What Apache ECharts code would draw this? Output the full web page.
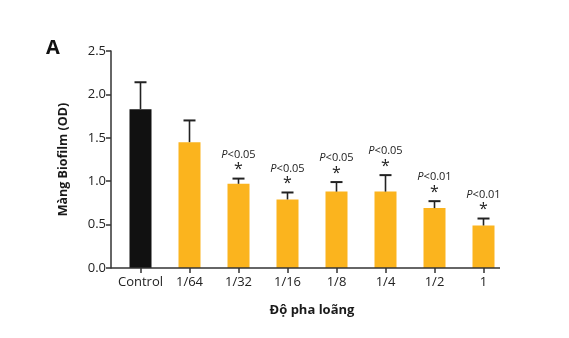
<!DOCTYPE html>
<html><head><meta charset="utf-8">
<script src="https://cdn.jsdelivr.net/npm/echarts@6/dist/echarts.min.js"></script>
<style>html,body{margin:0;padding:0;background:#fff}#c{width:569px;height:338px}</style>
</head><body><div id="c"></div>
<script>
const categories = ['Control','1/64','1/32','1/16','1/8','1/4','1/2','1'];
const means = [1.83, 1.45, 0.97, 0.79, 0.88, 0.88, 0.69, 0.49];
const errTops = [2.14, 1.70, 1.03, 0.87, 0.99, 1.07, 0.77, 0.57];
const pLabels = ['', '', '0.05', '0.05', '0.05', '0.05', '0.01', '0.01'];
const yTicks = [0, 0.5, 1.0, 1.5, 2.0, 2.5];

const FONT = 'Open Sans';
const chart = echarts.init(document.getElementById('c'), null, {renderer:'canvas'});
const barData = means.map((v,i)=>({value:v, itemStyle:{color: i===0 ? '#111111' : '#FBB41E'}}));

chart.setOption({
  animation:false,
  grid:{left:116, right:61, top:51, bottom:70},
  xAxis:{
    type:'category', data:categories,
    name:'Độ pha loãng', nameLocation:'middle', nameGap:36,
    nameTextStyle:{fontFamily:FONT, fontSize:13, fontWeight:'bold', color:'#1a1a1a'},
    axisLine:{show:false},
    axisTick:{show:true, alignWithLabel:true, length:5, lineStyle:{color:'#333', width:1.5}},
    axisLabel:{fontFamily:FONT, fontSize:13, color:'#222', margin:8, interval:0}
  },
  yAxis:{
    type:'value', min:yTicks[0], max:yTicks[yTicks.length-1], interval:0.5, offset:5,
    name:'Màng Biofilm (OD)', nameLocation:'middle', nameGap:41, nameRotate:90,
    nameTextStyle:{fontFamily:FONT, fontSize:12.5, fontWeight:'bold', color:'#1a1a1a'},
    splitLine:{show:false},
    axisLine:{show:true, lineStyle:{color:'#333', width:1.5}},
    axisTick:{show:true, length:5, lineStyle:{color:'#333', width:1.5}},
    axisLabel:{fontFamily:FONT, fontSize:13, color:'#222', margin:5, formatter:v=>v.toFixed(1)}
  },
  series:[
    {type:'bar', data:barData, barWidth:22, z:2},
    {type:'custom', z:3, data:categories.map((c,i)=>[i, means[i], errTops[i]]),
     renderItem:function(params, api){
       const x = api.coord([api.value(0), api.value(1)])[0];
       const y0 = api.coord([api.value(0), api.value(1)])[1];
       const y1 = api.coord([api.value(0), api.value(2)])[1];
       const st = {stroke:'#222', lineWidth:1.6};
       return {type:'group', children:[
         {type:'line', shape:{x1:x, y1:y0, x2:x, y2:y1}, style:st},
         {type:'line', shape:{x1:x-6, y1:y1, x2:x+6, y2:y1}, style:{stroke:'#222', lineWidth:2}}
       ]};
     }},
    {type:'custom', z:4, data:categories.map((c,i)=>[i, errTops[i]]),
     renderItem:function(params, api){
       const i = params.dataIndex;
       if(!pLabels[i]) return null;
       const p = api.coord([api.value(0), api.value(1)]);
       return {type:'group', children:[
         {type:'text', x:p[0], y:p[1]-9, style:{text:'*', fontFamily:FONT, fontSize:16, fill:'#222', align:'center', verticalAlign:'middle'}},
         {type:'text', x:p[0], y:p[1]-24, style:{text:'{i|P}<'+pLabels[i], fontFamily:FONT, fontSize:11, fill:'#222', align:'center', verticalAlign:'middle',
           rich:{i:{fontStyle:'italic', fontFamily:FONT, fontSize:11, fill:'#222'}}}}
       ]};
     }}
  ]
});
const y0px = chart.convertToPixel({yAxisIndex:0}, 0);
chart.setOption({graphic:[
  {type:'text', left:46, top:38, style:{text:'A', fontFamily:FONT, fontSize:20, fontWeight:'bold', fill:'#111'}},
  {type:'line', shape:{x1:111, y1:y0px, x2:500, y2:y0px}, style:{stroke:'#333', lineWidth:1.5}, z:10}
]});
</script></body></html>
